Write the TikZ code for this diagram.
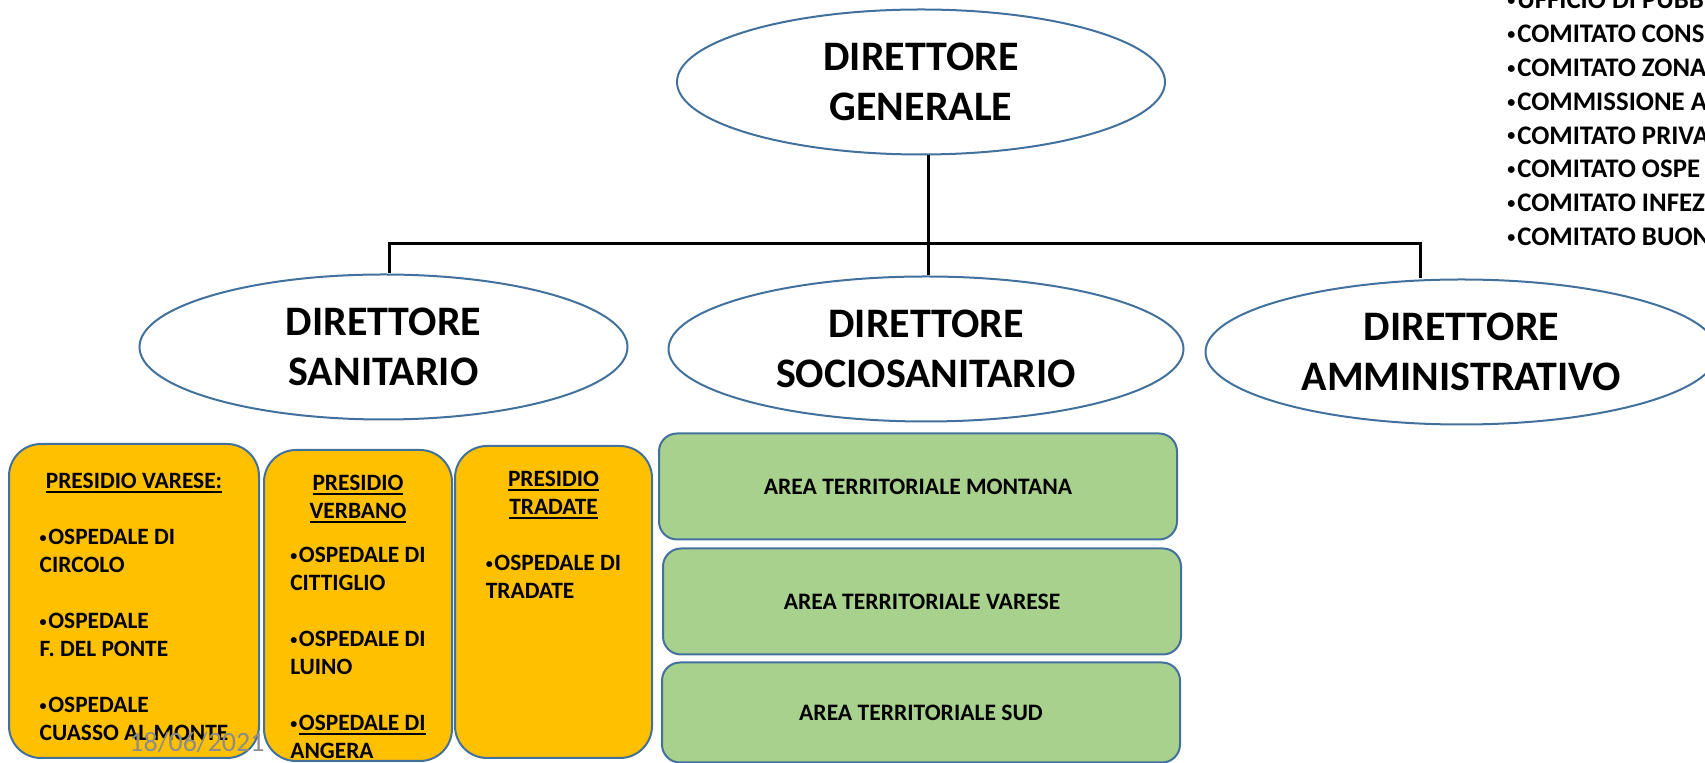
\documentclass[tikz,border=0pt]{standalone}
\usepackage{fontspec}
\setmainfont{Carlito}
\usepackage{xcolor}
\usepackage{tikz}
\usetikzlibrary{positioning, shapes.geometric}

\definecolor{orgblue}{RGB}{65,113,156}
\definecolor{orgyellow}{RGB}{255,192,0}
\definecolor{orggreen}{RGB}{169,209,142}
\definecolor{dategray}{RGB}{140,140,140}

\newsavebox{\undlbox}
\newcommand{\undl}[1]{\sbox{\undlbox}{#1}\rlap{\rule[-2pt]{\wd\undlbox}{1pt}}\usebox{\undlbox}}
\newcommand{\headrow}[1]{\multicolumn{1}{@{}c@{}}{\undl{#1}}}
\newcommand{\bul}{\raisebox{0.12em}{\scalebox{0.6}{•}}\kern0.07em}

\begin{document}
\begin{tikzpicture}[
    x=0.5pt, y=-0.5pt,
    boss/.style={
        ellipse,
        draw=orgblue,
        line width=1pt,
        fill=white,
        minimum width=244pt,
        minimum height=72.5pt,
        inner sep=0pt,
        align=center,
        font=\fontsize{21}{25}\selectfont\bfseries
    },
    presidio/.style={
        rectangle,
        draw=orgblue,
        line width=1pt,
        rounded corners=16pt,
        fill=orgyellow,
        inner sep=0pt,
        font=\fontsize{11.7}{14}\selectfont\bfseries
    },
    areabox/.style={
        rectangle,
        draw=orgblue,
        line width=1pt,
        rounded corners=9pt,
        fill=orggreen,
        minimum width=259pt,
        minimum height=53pt,
        font=\fontsize{11.8}{14}\selectfont\bfseries
    },
    orgline/.style={black, line width=1.5pt}
]
    \useasboundingbox (0,0) rectangle (1705,763);
    \clip (0,0) rectangle (1705,763);

    % Directors
    \node[boss] (dg) at (921,82) {DIRETTORE\\GENERALE};
    \node[boss, minimum width=257.5pt, below=60pt of dg, xshift=2.5pt] (dss) {DIRETTORE\\SOCIOSANITARIO};
    \node[boss, left=19.5pt of dss, yshift=1pt] (ds) {DIRETTORE\\SANITARIO};
    \node[boss, minimum width=256pt, right=10pt of dss, yshift=-1.5pt] (da) {DIRETTORE\\AMMINISTRATIVO};

    % Committees
    \node[anchor=base west, inner sep=0pt, font=\fontsize{13.4}{16.9}\selectfont\bfseries] (comitati) at (1507,9) {%
        \begin{tabular}[t]{@{}l@{}}
        \bul UFFICIO DI PUBB\\
        \bul COMITATO CONS\\
        \bul COMITATO ZONA\\
        \bul COMMISSIONE A\\
        \bul COMITATO PRIVA\\
        \bul COMITATO OSPE\\
        \bul COMITATO INFEZ\\
        \bul COMITATO BUON
        \end{tabular}};

    % Connectors
    \coordinate (bus) at (928,244);
    \draw[orgline] (dg.south -| bus) -- (bus);
    \draw[orgline] ([xshift=3pt]ds.north) |- (bus) -| ([xshift=-20.5pt]da.north);
    \draw[orgline] (bus) -- (bus |- dss.north);

    % Presidi
    \node[presidio, minimum width=125pt, text height=22.5pt, text depth=134.5pt] (varese) at (134,601) {%
        \begin{tabular}[t]{@{}l@{}}
        \headrow{PRESIDIO VARESE:}\\
        \\
        \bul OSPEDALE DI\\
        CIRCOLO\\
        \\
        \bul OSPEDALE\\
        F. DEL PONTE\\
        \\
        \bul OSPEDALE\\
        CUASSO AL MONTE
        \end{tabular}};
    \node[presidio, minimum width=94pt, text height=20.5pt, text depth=135pt, right=1.5pt of varese, yshift=-2.25pt] (verbano) {%
        \begin{tabular}[t]{@{}l@{}}
        \headrow{PRESIDIO}\\
        \headrow{VERBANO}\\[8pt]
        \bul OSPEDALE DI\\
        CITTIGLIO\\
        \\
        \bul OSPEDALE DI\\
        LUINO\\
        \\
        \bul\undl{OSPEDALE DI}\\
        ANGERA
        \end{tabular}};
    \node[presidio, minimum width=98.5pt, text height=20.5pt, text depth=135.5pt, right=0.5pt of verbano, yshift=1.75pt] (tradate) {%
        \begin{tabular}[t]{@{}l@{}}
        \headrow{PRESIDIO}\\
        \headrow{TRADATE}\\
        \\
        \bul OSPEDALE DI\\
        TRADATE
        \end{tabular}};

    % Aree territoriali
    \node[areabox, below=5pt of dss, xshift=-4pt] (montana) {AREA TERRITORIALE MONTANA};
    \node[areabox, below=3.5pt of montana, xshift=2pt] (vareseterr) {AREA TERRITORIALE VARESE};
    \node[areabox, minimum height=50pt, below=3pt of vareseterr, xshift=-0.5pt] (sud) {AREA TERRITORIALE SUD};

    % Date
    \node[anchor=base west, inner sep=0pt, text=dategray, font=\fontsize{14}{17}\selectfont] (data) at (129,752) {18/06/2021};
\end{tikzpicture}
\end{document}
